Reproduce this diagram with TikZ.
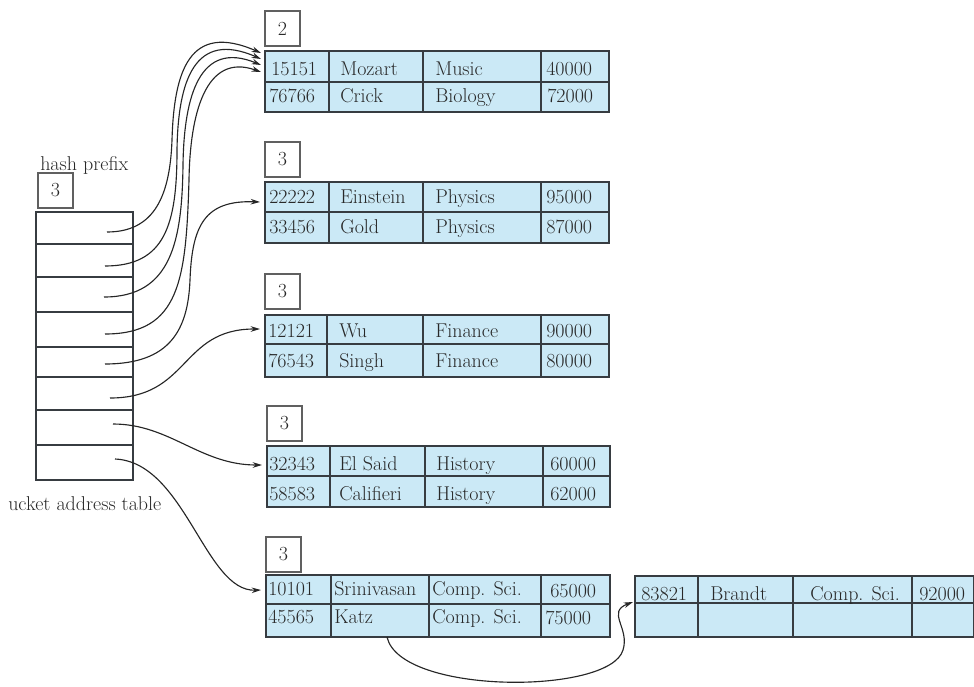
\documentclass[tikz,border=0pt]{standalone}
\usetikzlibrary{arrows.meta,calc}
\newlength\pxl \setlength\pxl{0.75pt}
\definecolor{cellblue}{RGB}{203,233,246}
\definecolor{linegray}{RGB}{55,60,65}
\definecolor{txtgray}{RGB}{40,40,40}
\begin{document}
\begin{tikzpicture}[x=0.75pt,y=-0.75pt,
  font=\fontsize{15}{18}\selectfont, text=txtgray,
  tbl/.style={draw=linegray, line width=1.1pt, fill=cellblue, inner sep=0pt, outer sep=0pt, anchor=north west},
  hdr/.style={draw=gray!75!black, line width=0.9pt, fill=white, inner sep=0pt, outer sep=0pt, anchor=north west, minimum width=35\pxl, minimum height=35\pxl},
  cellt/.style={anchor=base west, inner sep=0pt},
  div/.style={draw=linegray, line width=0.8pt},
  ptr/.style={draw=black!85, line width=0.85pt, -{Stealth[length=7pt,width=4.2pt]}},
  lbl/.style={anchor=base west, inner sep=0pt}]
\useasboundingbox (0,0) rectangle (974,686);

% ---------- bucket address table ----------
\node[lbl] (hp) at (40,170) {hash prefix};
\node[hdr] (HA) at (38,173) {3};
\node[draw=linegray, line width=0.9pt, fill=white, inner sep=0pt, outer sep=0pt, anchor=north west,
      minimum width=97\pxl, minimum height=268\pxl] (A) at (36,212) {};
\foreach \yy in {244,277,312,347,377,410,445}
  \draw[div] (36,\yy) -- (133,\yy);
\node[lbl] (bat) at (8,510) {ucket address table};

% ---------- bucket 1 ----------
\node[hdr] (H1) at (265,11) {2};
\node[tbl, minimum width=344\pxl, minimum height=61\pxl] (T1) at (265,51) {};
\draw[div] (265,82) -- (609,82);
\foreach \xx in {329,423,541} \draw[div] (\xx,51) -- (\xx,112);
\node[cellt] (a11) at (271,75) {15151};
\node[cellt] (a12) at (340,75) {Mozart};
\node[cellt] (a13) at (435,75) {Music};
\node[cellt] (a14) at (546,75) {40000};
\node[cellt] (a21) at (269,102) {76766};
\node[cellt] (a22) at (340,102) {Crick};
\node[cellt] (a23) at (435,102) {Biology};
\node[cellt] (a24) at (547,102) {72000};

% ---------- bucket 2 ----------
\node[hdr] (H2) at (265,142) {3};
\node[tbl, minimum width=344\pxl, minimum height=61\pxl] (T2) at (265,182) {};
\draw[div] (265,212) -- (609,212);
\foreach \xx in {329,423,541} \draw[div] (\xx,182) -- (\xx,243);
\node[cellt] (b11) at (269,203) {22222};
\node[cellt] (b12) at (340,203) {Einstein};
\node[cellt] (b13) at (435,203) {Physics};
\node[cellt] (b14) at (546,203) {95000};
\node[cellt] (b21) at (269,233) {33456};
\node[cellt] (b22) at (340,233) {Gold};
\node[cellt] (b23) at (435,233) {Physics};
\node[cellt] (b24) at (546,233) {87000};

% ---------- bucket 3 ----------
\node[hdr] (H3) at (265,274) {3};
\node[tbl, minimum width=344\pxl, minimum height=62\pxl] (T3) at (265,315) {};
\draw[div] (265,344) -- (609,344);
\draw[div] (327,315) -- (327,377);
\draw[div, line width=1.3pt] (423,315) -- (423,377);
\draw[div] (541,315) -- (541,377);
\node[cellt] (c11) at (268,337) {12121};
\node[cellt] (c12) at (339,337) {Wu};
\node[cellt] (c13) at (435,337) {Finance};
\node[cellt] (c14) at (546,337) {90000};
\node[cellt] (c21) at (268,367) {76543};
\node[cellt] (c22) at (339,367) {Singh};
\node[cellt] (c23) at (435,367) {Finance};
\node[cellt] (c24) at (546,367) {80000};

% ---------- bucket 4 ----------
\node[hdr] (H4) at (267,406) {3};
\node[tbl, minimum width=343\pxl, minimum height=61\pxl] (T4) at (267,446) {};
\draw[div] (267,476) -- (610,476);
\foreach \xx in {330,425,543} \draw[div] (\xx,446) -- (\xx,507);
\node[cellt] (d11) at (269,470) {32343};
\node[cellt] (d12) at (339,470) {El Said};
\node[cellt] (d13) at (436,470) {History};
\node[cellt] (d14) at (550,470) {60000};
\node[cellt] (d21) at (269,500) {58583};
\node[cellt] (d22) at (339,500) {Califieri};
\node[cellt] (d23) at (436,500) {History};
\node[cellt] (d24) at (550,500) {62000};

% ---------- bucket 5 ----------
\node[hdr] (H5) at (266,537) {3};
\node[tbl, minimum width=344\pxl, minimum height=62\pxl] (T5) at (266,575) {};
\draw[div] (266,604) -- (610,604);
\foreach \xx in {331,429,541} \draw[div] (\xx,575) -- (\xx,637);
\node[cellt] (e11) at (268,595) {10101};
\node[cellt] (e12) at (334,595) {Srinivasan};
\node[cellt] (e13) at (432,595) {Comp. Sci.};
\node[cellt] (e14) at (550,597) {65000};
\node[cellt] (e21) at (268,623) {45565};
\node[cellt] (e22) at (334,623) {Katz};
\node[cellt] (e23) at (432,623) {Comp. Sci.};
\node[cellt] (e24) at (545,624) {75000};

% ---------- overflow bucket ----------
\node[tbl, minimum width=339\pxl, minimum height=61\pxl] (T6) at (635,576) {};
\draw[div] (635,603) -- (974,603);
\foreach \xx in {698,793,912} \draw[div] (\xx,576) -- (\xx,637);
\node[cellt] (f11) at (641,600) {83821};
\node[cellt] (f12) at (710,600) {Brandt};
\node[cellt] (f13) at (810,600) {Comp. Sci.};
\node[cellt] (f14) at (919,600) {92000};

% ---------- pointers ----------
\coordinate (p1) at (107,232);
\coordinate (p2) at (105,266);
\coordinate (p3) at (104,297);
\coordinate (p4) at (105,334);
\coordinate (p5) at (105,364);
\coordinate (p6) at (110,398);
\coordinate (p7) at (113,424);
\coordinate (p8) at (115,459);
\coordinate (kz) at ($(T5.south west)+(121,0)$);

\draw[ptr] (p1) .. controls (155,232) and (170,195) .. (172,140)
  .. controls (174,70) and (190,22) .. ($(T1.north west)+(-4,2)$);
\draw[ptr] (p2) .. controls (165,266) and (177,225) .. (177,150)
  .. controls (178,80) and (195,30) .. ($(T1.north west)+(-4,8)$);
\draw[ptr] (p3) .. controls (172,297) and (182,240) .. (183,165)
  .. controls (184,95) and (200,40) .. ($(T1.north west)+(-4,14)$);
\draw[ptr] (p4) .. controls (180,334) and (186,280) .. (189,180)
  .. controls (190,115) and (205,52) .. ($(T1.north west)+(-4,21)$);
\draw[ptr] (p5) .. controls (170,364) and (188,330) .. (190,280)
  .. controls (192,225) and (205,200) .. ($(T2.north west)+(-5,20)$);
\draw[ptr] (p6) .. controls (190,398) and (180,329) .. ($(T3.north west)+(-5,14)$);
\draw[ptr] (p7) .. controls (170,424) and (200,465) .. ($(T4.north west)+(-5,19)$);
\draw[ptr] (p8) .. controls (185,462) and (205,592) .. ($(T5.north west)+(-5,15)$);
\draw[ptr] (kz) .. controls (400,695) and (610,695) .. (623,650)
  .. controls (630,628) and (606,612) .. ($(T6.north west)+(-2,26)$);
\end{tikzpicture}
\end{document}
